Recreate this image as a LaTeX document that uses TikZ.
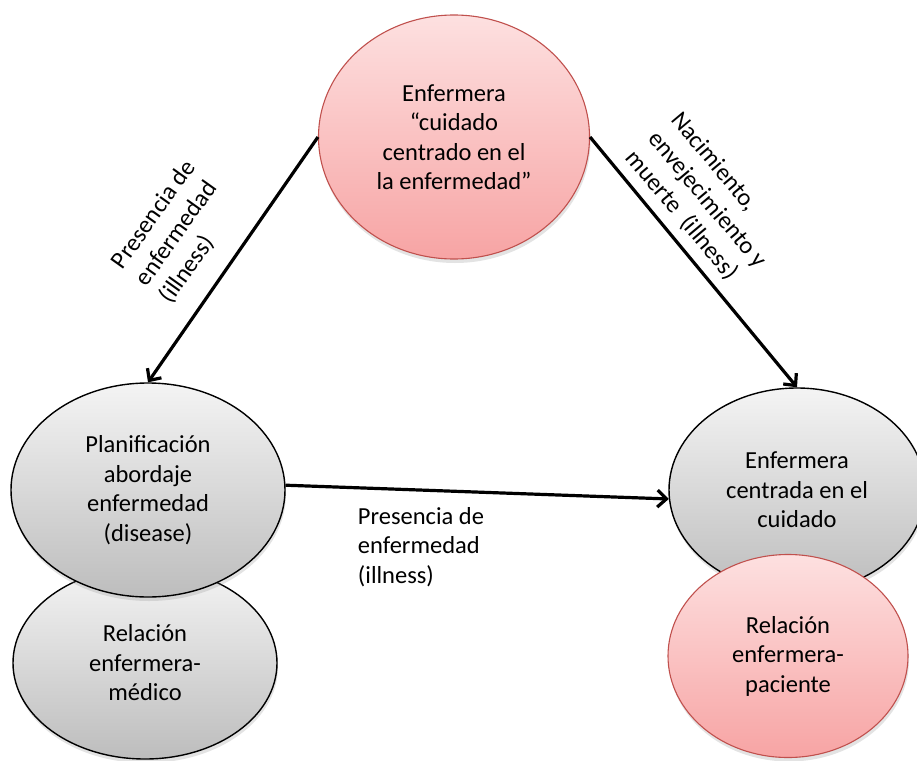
\documentclass[tikz,border=0pt]{standalone}
\usepackage{fontspec}
\setmainfont{Carlito}
\usetikzlibrary{arrows.meta,shapes.geometric,shadows}

\definecolor{pinktop}{HTML}{FDE0E0}
\definecolor{pinkbot}{HTML}{F7A4A4}
\definecolor{pinkline}{HTML}{C0504D}
\definecolor{greytop}{HTML}{F4F4F4}
\definecolor{greybot}{HTML}{BDBDBD}

\tikzset{
  bubble/.style={ellipse, inner sep=0pt, align=center,
    drop shadow={opacity=0.22, shadow xshift=1pt, shadow yshift=-4pt}},
  pinkbubble/.style={bubble, draw=pinkline, line width=1.1pt,
    top color=pinktop, bottom color=pinkbot},
  greybubble/.style={bubble, draw=black, line width=1.4pt,
    top color=greytop, bottom color=greybot},
  flow/.style={line width=3.2pt, -{Straight Barb[length=9pt,width=17pt,line width=3.2pt]}},
  note/.style={inner sep=0pt, align=left}
}

\begin{document}
\begin{tikzpicture}[x=1pt, y=-1pt, font=\fontsize{24.5}{29.5}\selectfont]
  \useasboundingbox[fill=white] (0,0) rectangle (917,760);

  % top node
  \node[pinkbubble, minimum width=271pt, minimum height=244pt] (top) at (454,137)
    {Enfermera\\“cuidado\\centrado en el\\la enfermedad”};

  % left column: lower bubble first so the upper one overlaps it
  \node[greybubble, minimum width=264pt, minimum height=192pt] (lowleft) at (145,663)
    {Relación\\enfermera-\\médico};
  \node[greybubble, minimum width=274pt, minimum height=214pt] (left) at (148,490)
    {Planificación\\abordaje\\enfermedad\\(disease)};

  % right column: grey bubble first, pink one on top of it
  \node[greybubble, minimum width=256pt, minimum height=204pt] (right) at (797,490)
    {Enfermera\\centrada en el\\cuidado};
  \node[pinkbubble, minimum width=240pt, minimum height=203pt] (lowright) at (788,656)
    {Relación\\enfermera-\\paciente};

  % connectors
  \draw[flow] (top.west) -- (left.north);
  \draw[flow] (top.east) -- (right.north);
  \draw[flow] (left.2) -- (right.184);

  % connector labels
  \node[note, rotate=54.5] (lblleft) at (178,232)
    {Presencia de\\enfermedad\\(illness)};
  \node[note, rotate=-50] (lblright) at (707,200)
    {Nacimiento,\\envejecimiento y\\muerte \ (illness)};
  \node[note] (lblmid) at (421,547)
    {Presencia de\\enfermedad\\(illness)};
\end{tikzpicture}
\end{document}
